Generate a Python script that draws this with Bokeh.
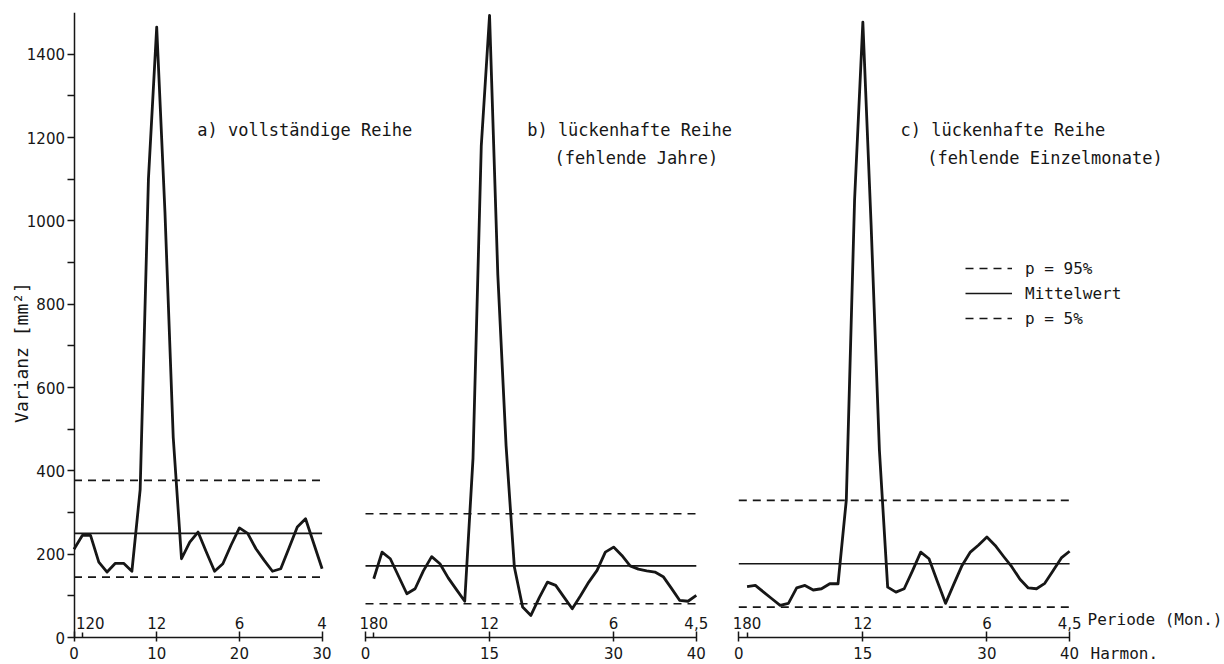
import math

from bokeh.core.properties import value
from bokeh.embed import file_html
from bokeh.models import (FixedTicker, Label, Legend, LegendItem, LinearAxis,
                          Range1d)
from bokeh.plotting import figure
from bokeh.resources import INLINE

# --- data -------------------------------------------------------------------
# a) complete series, harmonics 0..30
harm_a = list(range(0, 31))
var_a = [212, 245, 245, 181, 157, 178, 178, 159, 355, 1100,
         1465, 1020, 480, 189, 229, 253, 205, 159, 177, 222,
         263, 250, 213, 185, 159, 165, 215, 265, 285, 225, 165]

# b) series with missing years, harmonics 1..40
harm_b = list(range(1, 41))
var_b = [141, 205, 189, 147, 105, 117, 160, 194, 177, 143,
         115, 87, 430, 1180, 1493, 870, 460, 169, 73, 53,
         95, 133, 125, 97, 69, 100, 133, 161, 205, 217,
         197, 172, 164, 160, 157, 146, 118, 89, 87, 101]

# c) series with missing single months, harmonics 1..40
harm_c = list(range(1, 41))
var_c = [122, 125, 109, 93, 77, 82, 119, 125, 114, 117,
         129, 129, 330, 1050, 1477, 990, 450, 121, 109, 117,
         160, 205, 189, 135, 82, 128, 173, 205, 222, 241,
         221, 195, 170, 140, 119, 117, 130, 160, 191, 207]

# significance levels and mean (a, b, c)
level_p95 = [377, 297, 329]
level_mean = [250, 172, 177]
level_p5 = [145, 81, 73]

# harmonic range covered by each panel
span_a = (0, 30)
span_b = (0, 40)
span_c = (0, 40)

# period (months) labels on the harmonic scale
period_pos_a = [1, 10, 20, 30]
period_lab_a = ["120", "12", "6", "4"]
period_pos_b = [1, 15, 30, 40]
period_lab_b = ["180", "12", "6", "4,5"]
period_pos_c = [1, 15, 30, 40]
period_lab_c = ["180", "12", "6", "4,5"]

harm_ticks_a = [0, 10, 20, 30]
harm_ticks_b = [0, 15, 30, 40]
harm_ticks_c = [0, 15, 30, 40]

y_major = [0, 200, 400, 600, 800, 1000, 1200, 1400]
y_minor = [100, 300, 500, 700, 900, 1100, 1300]
y_top = 1500

# --- layout / styling -------------------------------------------------------
INK = "#161616"
FONT = "DejaVu Sans"
MONO = "DejaVu Sans Mono"
W, H = 1224, 664
TOP = 12
PX_PER_HARM = 8.27


def harm_range(zero_px):
    """Harmonic range whose 0 sits zero_px pixels from the page's left edge."""
    start = -zero_px / PX_PER_HARM
    return Range1d(start, start + W / PX_PER_HARM)


p = figure(width=W, height=H,
           x_range=harm_range(73.5), y_range=Range1d(-64.8, y_top),
           x_axis_location=None, y_axis_location=None,
           output_backend="svg", toolbar_location=None,
           min_border_left=0, min_border_right=0,
           min_border_top=TOP, min_border_bottom=0)
p.extra_x_ranges = {"b": harm_range(365), "c": harm_range(738.3)}
p.outline_line_color = None
p.background_fill_color = "white"
p.border_fill_color = "white"
for g in p.grid:
    g.visible = False


def add_panel(rng, harm, var, p95, mean, p5, span, period_pos, period_lab,
              harm_ticks, first_label_shift=0):
    # harmonic axis along variance 0
    xaxis = LinearAxis(x_range_name=rng, fixed_location=0, bounds=span,
                       ticker=FixedTicker(ticks=harm_ticks,
                                          minor_ticks=[period_pos[0]]))
    xaxis.axis_line_color = INK
    xaxis.axis_line_width = 1.5
    xaxis.major_tick_line_color = INK
    xaxis.major_tick_line_width = 1.5
    xaxis.major_tick_in = 6
    xaxis.major_tick_out = 4
    xaxis.minor_tick_line_color = INK
    xaxis.minor_tick_line_width = 1.5
    xaxis.minor_tick_in = 5
    xaxis.minor_tick_out = 0
    xaxis.major_label_text_font = FONT
    xaxis.major_label_text_font_size = "15px"
    xaxis.major_label_text_color = INK
    xaxis.major_label_standoff = 5
    p.add_layout(xaxis, "below")

    # period labels sitting on the axis line
    shifts = [first_label_shift] + [0] * (len(period_pos) - 1)
    p.text(x=period_pos, y=[0] * len(period_pos), text=period_lab,
           x_range_name=rng, x_offset=shifts, y_offset=-9,
           text_font=value(FONT), text_font_size="15px", text_color=INK,
           text_align="center", text_baseline="bottom")

    # significance levels and mean
    dash = dict(line_color=INK, line_width=1.6, line_dash="8 6")
    r95 = p.segment(x0=span[0], x1=span[1], y0=p95, y1=p95,
                    x_range_name=rng, **dash)
    rmean = p.segment(x0=span[0], x1=span[1], y0=mean, y1=mean,
                      x_range_name=rng, line_color=INK, line_width=1.6)
    r5 = p.segment(x0=span[0], x1=span[1], y0=p5, y1=p5,
                   x_range_name=rng, **dash)

    # variance spectrum
    p.line(harm, var, x_range_name=rng, line_color=INK, line_width=2.8,
           line_join="round")
    return r95, rmean, r5


add_panel("default", harm_a, var_a, level_p95[0], level_mean[0], level_p5[0],
          span_a, period_pos_a, period_lab_a, harm_ticks_a, first_label_shift=8)
add_panel("b", harm_b, var_b, level_p95[1], level_mean[1], level_p5[1],
          span_b, period_pos_b, period_lab_b, harm_ticks_b)
rc = add_panel("c", harm_c, var_c, level_p95[2], level_mean[2], level_p5[2],
               span_c, period_pos_c, period_lab_c, harm_ticks_c)

# variance axis, standing on harmonic 0 of panel a
yaxis = LinearAxis(fixed_location=0, bounds=(0, y_top),
                   ticker=FixedTicker(ticks=y_major, minor_ticks=y_minor))
yaxis.axis_line_color = INK
yaxis.axis_line_width = 1.5
yaxis.major_tick_line_color = INK
yaxis.major_tick_line_width = 1.5
yaxis.major_tick_in = 0
yaxis.major_tick_out = 7
yaxis.minor_tick_line_color = INK
yaxis.minor_tick_line_width = 1.5
yaxis.minor_tick_in = 0
yaxis.minor_tick_out = 7
yaxis.major_label_text_font = FONT
yaxis.major_label_text_font_size = "15px"
yaxis.major_label_text_color = INK
yaxis.major_label_standoff = 2
p.add_layout(yaxis, "left")

p.add_layout(Label(x=-6.4, y=684, text="Varianz [mm²]", angle=math.pi / 2,
                   text_font=MONO, text_font_size="18px", text_color=INK,
                   text_align="center", text_baseline="middle"))

# panel captions
cap = dict(text_font=MONO, text_font_size="17px", text_color=INK,
           text_align="left", text_baseline="middle")
p.add_layout(Label(x=14.9, y=1217, text="a) vollständige Reihe", **cap))
p.add_layout(Label(x=19.55, y=1217, x_range_name="b",
                   text="b) lückenhafte Reihe", **cap))
p.add_layout(Label(x=22.85, y=1152, x_range_name="b",
                   text="(fehlende Jahre)", **cap))
p.add_layout(Label(x=19.55, y=1217, x_range_name="c",
                   text="c) lückenhafte Reihe", **cap))
p.add_layout(Label(x=22.8, y=1152, x_range_name="c",
                   text="(fehlende Einzelmonate)", **cap))

# axis names at the right end of the last panel
p.text(x=[40], y=[0], text=["Periode (Mon.)"], x_range_name="c",
       x_offset=18, y_offset=-9, text_font=value(MONO),
       text_font_size="16px", text_color=INK, text_align="left",
       text_baseline="bottom")
p.add_layout(Label(x=40, y=0, x_range_name="c", text="Harmon.",
                   x_offset=21, y_offset=-6, text_font=MONO,
                   text_font_size="16px", text_color=INK,
                   text_align="left", text_baseline="top"))

legend = Legend(items=[LegendItem(label="p = 95%", renderers=[rc[0]]),
                       LegendItem(label="Mittelwert", renderers=[rc[1]]),
                       LegendItem(label="p = 5%", renderers=[rc[2]])],
                location=(965, 336), orientation="vertical",
                glyph_width=47, glyph_height=20, label_height=20,
                label_standoff=13, spacing=5, padding=0, margin=0,
                background_fill_alpha=0, border_line_alpha=0,
                label_text_font=MONO, label_text_font_size="16px",
                label_text_color=INK)
p.add_layout(legend)

open("out.html", "w").write(file_html(p, INLINE))
